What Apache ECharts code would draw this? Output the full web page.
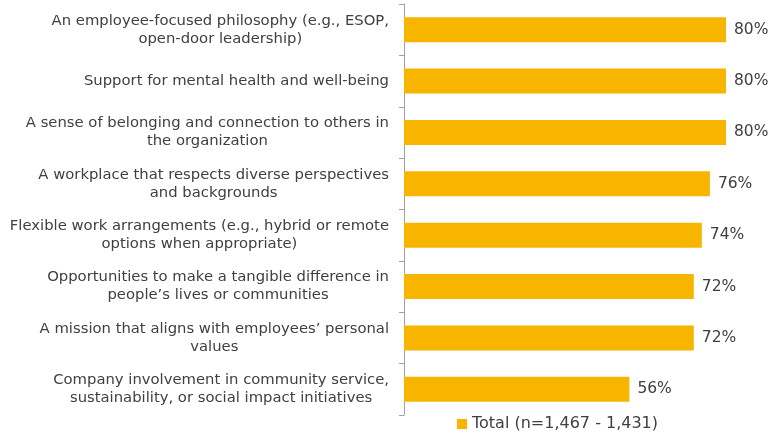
<!DOCTYPE html>
<html>
<head>
<meta charset="utf-8">
<script src="https://cdn.jsdelivr.net/npm/echarts@6/dist/echarts.min.js"></script>
<style>
  html, body { margin: 0; padding: 0; background: #fff; }
  #chart { width: 768px; height: 433px; }
</style>
</head>
<body>
<div id="chart"></div>
<script>
// Workplace attributes, top to bottom
const categories = [
  'An employee-focused philosophy (e.g., ESOP,\nopen-door leadership)',
  'Support for mental health and well-being',
  'A sense of belonging and connection to others in\nthe organization',
  'A workplace that respects diverse perspectives\nand backgrounds',
  'Flexible work arrangements (e.g., hybrid or remote\noptions when appropriate)',
  'Opportunities to make a tangible difference in\npeople\u2019s lives or communities',
  'A mission that aligns with employees\u2019 personal\nvalues',
  'Company involvement in community service,\nsustainability, or social impact initiatives'
];
const totalValues = [80, 80, 80, 76, 74, 72, 72, 56];
const seriesName = 'Total (n=1,467 - 1,431)';

const FONT = '"DejaVu Sans", sans-serif';
const TEXT = '#404040';
const GOLD = '#F7B500';

const chart = echarts.init(document.getElementById('chart'), null, { renderer: 'canvas' });
chart.setOption({
  animation: false,
  backgroundColor: '#ffffff',
  grid: { left: 404, right: 42, top: 4, bottom: 18, containLabel: false },
  legend: {
    data: [seriesName],
    left: 457, top: 416, padding: 0,
    itemWidth: 10, itemHeight: 10, itemGap: 6,
    icon: 'rect',
    textStyle: { fontFamily: FONT, fontSize: 16, color: TEXT }
  },
  xAxis: {
    type: 'value', min: 0, max: 80,
    show: false
  },
  yAxis: {
    type: 'category',
    inverse: true,
    data: categories,
    axisLine: { show: true, lineStyle: { color: '#A0A0A0', width: 1 } },
    axisTick: { show: true, length: 5, lineStyle: { color: '#A0A0A0' } },
    axisLabel: {
      margin: 15,
      formatter: function (v) {
        return v.split('\n').map(function (s) { return '{c|' + s + '}'; }).join('\n');
      },
      rich: {
        c: { align: 'center', fontFamily: FONT, fontSize: 14.8, color: TEXT, lineHeight: 18 }
      }
    }
  },
  series: [{
    name: seriesName,
    type: 'bar',
    data: totalValues,
    barWidth: 25,
    itemStyle: { color: GOLD },
    label: {
      show: true, position: 'right', distance: 8,
      formatter: '{c}%',
      fontFamily: FONT, fontSize: 15.5, color: TEXT
    }
  }]
});
</script>
</body>
</html>
